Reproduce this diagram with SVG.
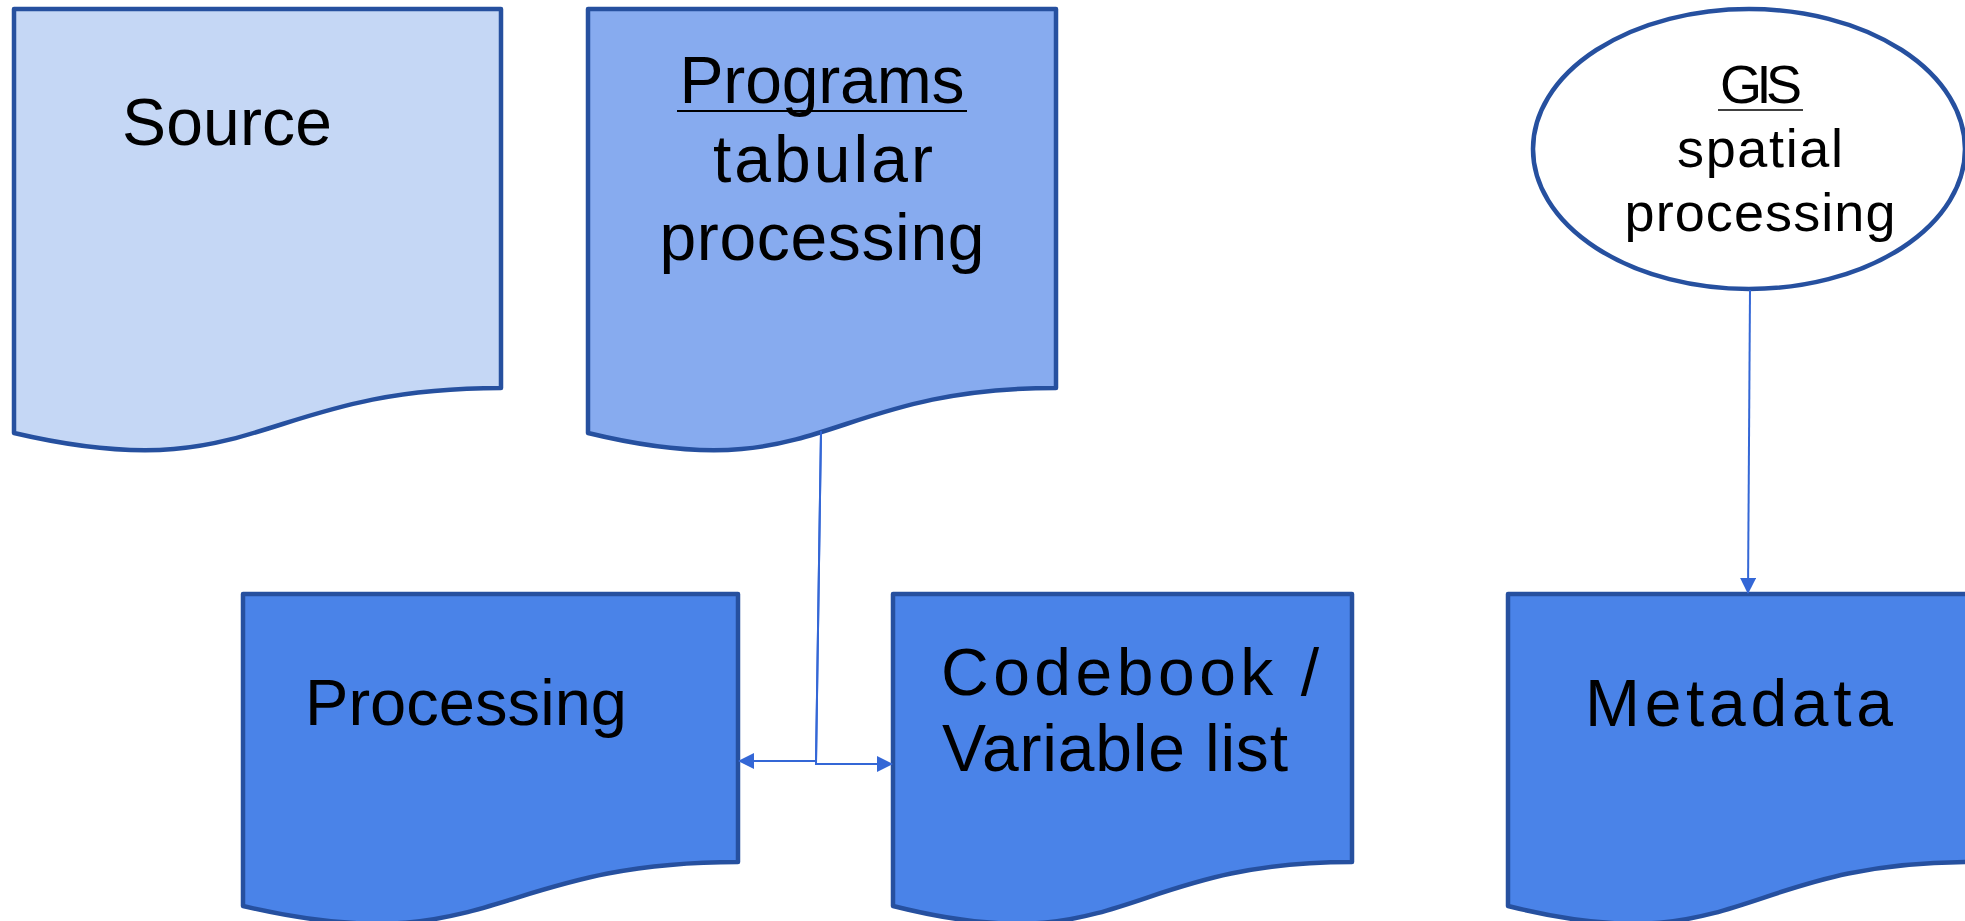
<svg xmlns="http://www.w3.org/2000/svg" width="1965" height="921" viewBox="0 0 1965 921">
<style>
.doc{stroke:#26509f;stroke-width:4.5;stroke-linejoin:round}
.light{fill:#c5d7f5}
.mid{fill:#87abef}
.dark{fill:#4a83e8}
.t{font-family:"Liberation Sans",Arial,sans-serif;fill:#000}
.conn{fill:none;stroke:#3467d6;stroke-width:2}
</style>
<defs>
<marker id="arr" markerUnits="userSpaceOnUse" markerWidth="16" markerHeight="16" viewBox="0 0 16 16" refX="15" refY="8" orient="auto">
<path d="M0,0 L16,8 L0,16 Z" fill="#3467d6"/>
</marker>
</defs>
<rect width="1965" height="921" fill="#ffffff"/>
<g id="source">
<path class="doc light" d="M14,9 H501 V388 C257.5,388 257.5,490 14,433 Z"/>
<text class="t" x="122" y="145" font-size="66" textLength="210">Source</text>
</g>
<g id="programs">
<path class="doc mid" d="M588,9 H1056 V388 C822,388 822,490 588,433 Z"/>
<text class="t" x="822" y="103" font-size="66" text-anchor="middle" textLength="285">Programs</text>
<line x1="677" y1="111" x2="967" y2="111" stroke="#000" stroke-width="2"/>
<text class="t" x="823" y="182" font-size="66" text-anchor="middle" textLength="220">tabular</text>
<text class="t" x="822" y="260" font-size="66" text-anchor="middle" textLength="325">processing</text>
</g>
<g id="gis">
<ellipse cx="1749" cy="149" rx="216" ry="140" fill="#ffffff" stroke="#26509f" stroke-width="4.5"/>
<text class="t" x="1761" y="103" font-size="54" text-anchor="middle" textLength="82">GIS</text>
<line x1="1718" y1="110" x2="1803" y2="110" stroke="#000" stroke-width="1.5"/>
<text class="t" x="1760" y="167" font-size="54" text-anchor="middle" textLength="166">spatial</text>
<text class="t" x="1760" y="231" font-size="54" text-anchor="middle" textLength="271">processing</text>
</g>
<g id="processing">
<path class="doc dark" d="M243,594 H738 V862 C490.5,862 490.5,964 243,906 Z"/>
<text class="t" x="305" y="725" font-size="65" textLength="322">Processing</text>
</g>
<g id="codebook">
<path class="doc dark" d="M893,594 H1352 V862 C1122.5,862 1122.5,964 893,906 Z"/>
<text class="t" x="941" y="695" font-size="66" textLength="378">Codebook /</text>
<text class="t" x="942" y="771" font-size="66" textLength="346">Variable list</text>
</g>
<g id="metadata">
<path class="doc dark" d="M1508,594 H1970 V862 C1739,862 1739,964 1508,906 Z"/>
<text class="t" x="1739" y="726" font-size="66" text-anchor="middle" textLength="308">Metadata</text>
</g>
<g id="connectors">
<path class="conn" d="M821,431 L816,761 L739,761" marker-end="url(#arr)"/>
<path class="conn" d="M821,431 L816,764 L892,764" marker-end="url(#arr)"/>
<path class="conn" d="M1750,290 L1748,593" marker-end="url(#arr)"/>
</g>
</svg>
